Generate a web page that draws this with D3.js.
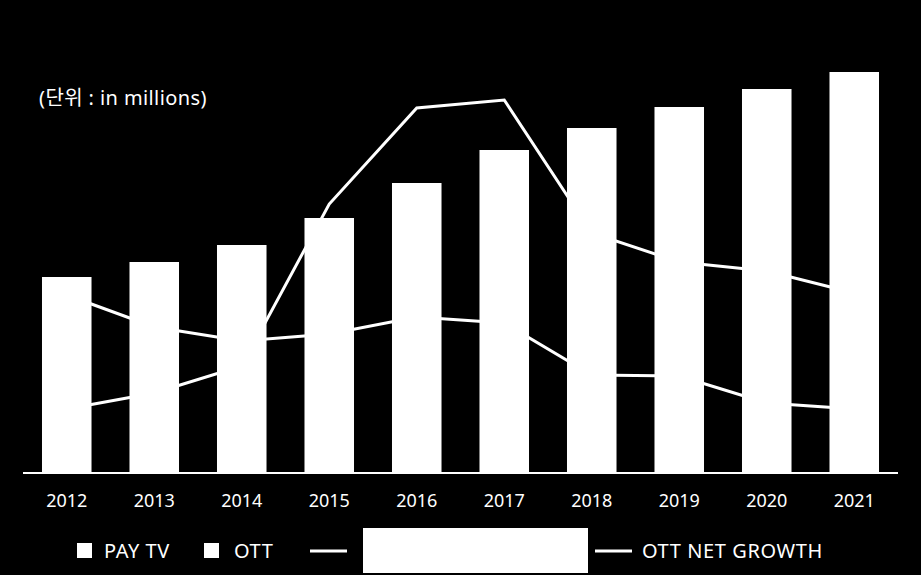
<!DOCTYPE html>
<html>
<head>
<meta charset="utf-8">
<script src="https://cdn.jsdelivr.net/npm/d3@7/dist/d3.min.js"></script>
<style>
  html, body { margin: 0; padding: 0; background: #000; }
  svg { display: block; }
  text { font-family: "Noto Sans", "Noto Sans CJK KR", sans-serif; fill: #fff; }
</style>
</head>
<body>
<svg id="chart" width="921" height="575"></svg>
<script>
// ---- data ----
const years = ["2012","2013","2014","2015","2016","2017","2018","2019","2020","2021"];
const barValues = [196, 211, 228, 255, 290, 323, 345, 366, 384, 401];
const lineHidden = [178, 146, 132, 139, 156, 150, 98, 97, 70, 64];
const ottNetGrowth = [64, 80, 107, 269, 365, 373, 240, 211, 202, 180];
const legendLabels = ["PAY TV", "OTT", "", "OTT NET GROWTH"];
const unitLabel = "(단위 : in millions)";

const svg = d3.select("#chart");
svg.append("rect").attr("width", 921).attr("height", 575).attr("fill", "#000");

const x = d3.scaleBand().domain(years).range([23, 898]).paddingInner(0.434).paddingOuter(0.217);
const y = d3.scaleLinear().domain([0, 400]).range([473, 73]);

// lines (drawn beneath bars)
const line = d3.line()
  .x((d, i) => x(years[i]) + x.bandwidth() / 2)
  .y(d => y(d));

[lineHidden, ottNetGrowth].forEach(s => {
  svg.append("path")
    .datum(s)
    .attr("d", line)
    .attr("fill", "none")
    .attr("stroke", "#fff")
    .attr("stroke-width", 3)
    .attr("stroke-linejoin", "miter");
});

// bars
svg.append("g").selectAll("rect")
  .data(barValues)
  .join("rect")
  .attr("x", (d, i) => x(years[i]))
  .attr("y", d => y(d))
  .attr("width", x.bandwidth())
  .attr("height", d => y(0) - y(d))
  .attr("fill", "#fff");

// x axis
const xAxis = svg.append("g")
  .attr("transform", `translate(0,${y(0)})`)
  .call(d3.axisBottom(x).tickSize(0).tickPadding(0));
xAxis.select(".domain").attr("stroke", "#fff").attr("stroke-width", 2).attr("d", "M23,0H898");
xAxis.selectAll(".tick text")
  .attr("y", 34)
  .attr("dy", null)
  .style("font-size", "18px")
  .style("font-family", "\"Noto Sans\", sans-serif")
  .attr("fill", "#fff");

// unit label
svg.append("text")
  .attr("x", 39)
  .attr("y", 105)
  .style("font-size", "20px")
  .style("letter-spacing", "0.4px")
  .attr("xml:space", "preserve")
  .style("white-space", "pre")
  .text(unitLabel);

// legend
const lg = svg.append("g");
const lgText = (xx, t) => lg.append("text").attr("x", xx).attr("y", 558)
  .style("font-size", "20px").style("letter-spacing", "0.6px").text(t);
lg.append("rect").attr("x", 77).attr("y", 543).attr("width", 15).attr("height", 15).attr("fill", "#fff");
lgText(104, legendLabels[0]);
lg.append("rect").attr("x", 204).attr("y", 543).attr("width", 15).attr("height", 15).attr("fill", "#fff");
lgText(234, legendLabels[1]);
lg.append("line").attr("x1", 310).attr("x2", 347).attr("y1", 551).attr("y2", 551)
  .attr("stroke", "#fff").attr("stroke-width", 3);
lg.append("rect").attr("x", 363).attr("y", 528).attr("width", 225).attr("height", 45).attr("fill", "#fff");
lg.append("line").attr("x1", 595).attr("x2", 632).attr("y1", 551).attr("y2", 551)
  .attr("stroke", "#fff").attr("stroke-width", 3);
lgText(642, legendLabels[3]);
</script>
</body>
</html>
